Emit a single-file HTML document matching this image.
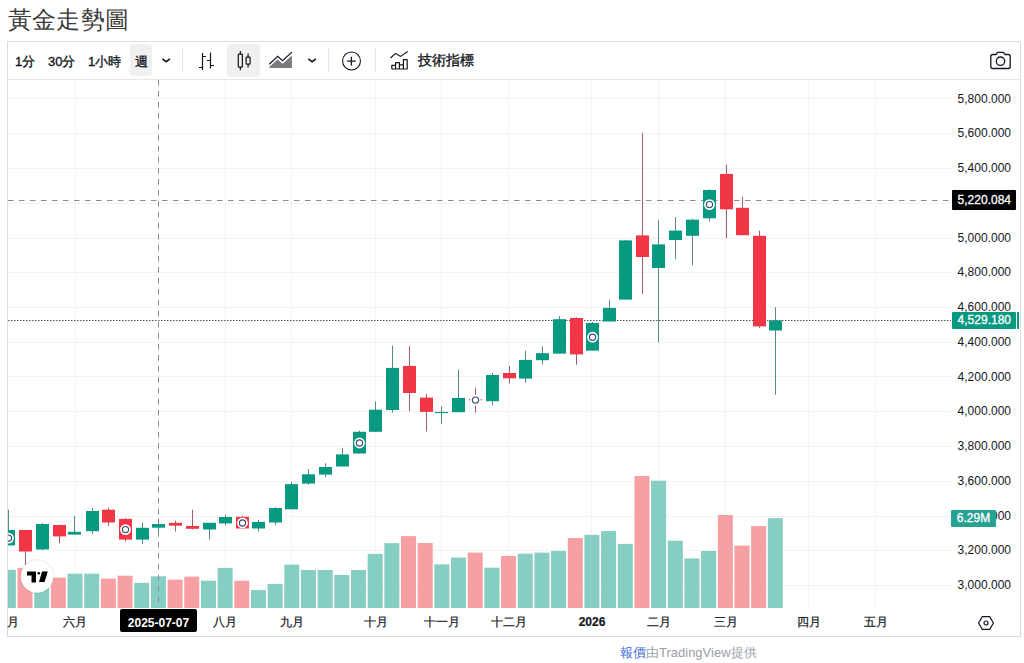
<!DOCTYPE html>
<html><head><meta charset="utf-8">
<style>
*{margin:0;padding:0;box-sizing:border-box}
html,body{width:1024px;height:663px;overflow:hidden;background:#fff}
body{position:relative;font-family:"Liberation Sans",sans-serif;color:#131722}
.title{position:absolute;left:8px;top:4px;font-family:"Liberation Serif",serif;font-size:24px;color:#3a3a3a;line-height:32px;letter-spacing:0.2px}
.widget{position:absolute;left:7px;top:41px;width:1014px;height:596px;border:1px solid #dcdcdc}
.tb{position:absolute;left:0;top:0;width:1012px;height:37px;border-bottom:1px solid #e0e3eb}
.t{position:absolute;top:10px;font-size:13px;line-height:16px;color:#131722;-webkit-text-stroke:0.35px #131722;white-space:nowrap}
.btnbg{position:absolute;background:#f0f0f0;border-radius:4px}
.sep{position:absolute;top:7px;width:1px;height:23px;background:#e6e6e6}
.pl{position:absolute;right:13px;font-size:12px;line-height:16px;color:#131722;text-align:right}
.tl{position:absolute;top:614px;font-size:12px;line-height:16px;color:#131722;-webkit-text-stroke:0.2px #131722;transform:translateX(-50%);white-space:nowrap}
svg{position:absolute;left:0;top:0}
.gr{stroke:#f3f3f3;stroke-width:1}
.foot{position:absolute;left:620px;top:645px;font-size:13px;line-height:16px;color:#9aa0a8;white-space:nowrap}
.plab{position:absolute;left:952px;width:64px;height:17px;font-size:12px;line-height:17px;color:#fff;-webkit-text-stroke:0.3px #fff;text-align:right;padding-right:5px;border-radius:1px}
.foot b{font-weight:normal;color:#4470d8}
</style></head><body>
<div class="title">黃金走勢圖</div>
<svg width="1024" height="663" viewBox="0 0 1024 663">
<defs><clipPath id="pane"><rect x="8" y="80" width="943" height="528"/></clipPath></defs>
<g clip-path="url(#pane)">
<line x1="8" y1="98.5" x2="952" y2="98.5" class="gr"/>
<line x1="8" y1="133.5" x2="952" y2="133.5" class="gr"/>
<line x1="8" y1="168.5" x2="952" y2="168.5" class="gr"/>
<line x1="8" y1="203.5" x2="952" y2="203.5" class="gr"/>
<line x1="8" y1="238.5" x2="952" y2="238.5" class="gr"/>
<line x1="8" y1="272.5" x2="952" y2="272.5" class="gr"/>
<line x1="8" y1="307.5" x2="952" y2="307.5" class="gr"/>
<line x1="8" y1="342.5" x2="952" y2="342.5" class="gr"/>
<line x1="8" y1="376.5" x2="952" y2="376.5" class="gr"/>
<line x1="8" y1="411.5" x2="952" y2="411.5" class="gr"/>
<line x1="8" y1="446.5" x2="952" y2="446.5" class="gr"/>
<line x1="8" y1="481.5" x2="952" y2="481.5" class="gr"/>
<line x1="8" y1="516.5" x2="952" y2="516.5" class="gr"/>
<line x1="8" y1="550.5" x2="952" y2="550.5" class="gr"/>
<line x1="8" y1="585.5" x2="952" y2="585.5" class="gr"/>
<line x1="75.5" y1="80" x2="75.5" y2="608" class="gr"/>
<line x1="158.5" y1="80" x2="158.5" y2="608" class="gr"/>
<line x1="225.5" y1="80" x2="225.5" y2="608" class="gr"/>
<line x1="291.5" y1="80" x2="291.5" y2="608" class="gr"/>
<line x1="375.5" y1="80" x2="375.5" y2="608" class="gr"/>
<line x1="441.5" y1="80" x2="441.5" y2="608" class="gr"/>
<line x1="508.5" y1="80" x2="508.5" y2="608" class="gr"/>
<line x1="591.5" y1="80" x2="591.5" y2="608" class="gr"/>
<line x1="658.5" y1="80" x2="658.5" y2="608" class="gr"/>
<line x1="725.5" y1="80" x2="725.5" y2="608" class="gr"/>
<line x1="808.5" y1="80" x2="808.5" y2="608" class="gr"/>
<line x1="875.5" y1="80" x2="875.5" y2="608" class="gr"/>
<rect x="0.84" y="569.8" width="15" height="38.2" fill="#86cdc2"/>
<rect x="17.51" y="567.9" width="15" height="40.1" fill="#f7a0a4"/>
<rect x="34.19" y="574.0" width="15" height="34.0" fill="#86cdc2"/>
<rect x="50.86" y="577.6" width="15" height="30.4" fill="#f7a0a4"/>
<rect x="67.54" y="573.7" width="15" height="34.3" fill="#86cdc2"/>
<rect x="84.21" y="573.7" width="15" height="34.3" fill="#86cdc2"/>
<rect x="100.88" y="578.6" width="15" height="29.4" fill="#f7a0a4"/>
<rect x="117.56" y="575.7" width="15" height="32.3" fill="#f7a0a4"/>
<rect x="134.23" y="582.9" width="15" height="25.1" fill="#86cdc2"/>
<rect x="150.91" y="576.3" width="15" height="31.7" fill="#86cdc2"/>
<rect x="167.58" y="579.6" width="15" height="28.4" fill="#f7a0a4"/>
<rect x="184.25" y="576.6" width="15" height="31.4" fill="#f7a0a4"/>
<rect x="200.93" y="580.7" width="15" height="27.3" fill="#86cdc2"/>
<rect x="217.60" y="567.9" width="15" height="40.1" fill="#86cdc2"/>
<rect x="234.28" y="580.7" width="15" height="27.3" fill="#f7a0a4"/>
<rect x="250.95" y="590.0" width="15" height="18.0" fill="#86cdc2"/>
<rect x="267.62" y="583.9" width="15" height="24.1" fill="#86cdc2"/>
<rect x="284.30" y="564.6" width="15" height="43.4" fill="#86cdc2"/>
<rect x="300.97" y="570.0" width="15" height="38.0" fill="#86cdc2"/>
<rect x="317.65" y="570.0" width="15" height="38.0" fill="#86cdc2"/>
<rect x="334.32" y="574.9" width="15" height="33.1" fill="#86cdc2"/>
<rect x="350.99" y="570.0" width="15" height="38.0" fill="#86cdc2"/>
<rect x="367.67" y="553.9" width="15" height="54.1" fill="#86cdc2"/>
<rect x="384.34" y="543.2" width="15" height="64.8" fill="#86cdc2"/>
<rect x="401.02" y="536.1" width="15" height="71.9" fill="#f7a0a4"/>
<rect x="417.69" y="543.0" width="15" height="65.0" fill="#f7a0a4"/>
<rect x="434.36" y="564.4" width="15" height="43.6" fill="#86cdc2"/>
<rect x="451.04" y="557.6" width="15" height="50.4" fill="#86cdc2"/>
<rect x="467.71" y="552.6" width="15" height="55.4" fill="#f7a0a4"/>
<rect x="484.39" y="567.7" width="15" height="40.3" fill="#86cdc2"/>
<rect x="501.06" y="555.9" width="15" height="52.1" fill="#f7a0a4"/>
<rect x="517.73" y="553.7" width="15" height="54.3" fill="#86cdc2"/>
<rect x="534.41" y="552.6" width="15" height="55.4" fill="#86cdc2"/>
<rect x="551.08" y="550.9" width="15" height="57.1" fill="#86cdc2"/>
<rect x="567.76" y="538.0" width="15" height="70.0" fill="#f7a0a4"/>
<rect x="584.43" y="534.8" width="15" height="73.2" fill="#86cdc2"/>
<rect x="601.10" y="531.1" width="15" height="76.9" fill="#86cdc2"/>
<rect x="617.78" y="543.9" width="15" height="64.1" fill="#86cdc2"/>
<rect x="634.45" y="476.0" width="15" height="132.0" fill="#f7a0a4"/>
<rect x="651.13" y="480.7" width="15" height="127.3" fill="#86cdc2"/>
<rect x="667.80" y="540.7" width="15" height="67.3" fill="#86cdc2"/>
<rect x="684.47" y="558.4" width="15" height="49.6" fill="#86cdc2"/>
<rect x="701.15" y="551.0" width="15" height="57.0" fill="#86cdc2"/>
<rect x="717.82" y="515.0" width="15" height="93.0" fill="#f7a0a4"/>
<rect x="734.50" y="545.6" width="15" height="62.4" fill="#f7a0a4"/>
<rect x="751.17" y="526.1" width="15" height="81.9" fill="#f7a0a4"/>
<rect x="767.84" y="518.2" width="15" height="89.8" fill="#86cdc2"/>
<line x1="158.5" y1="80" x2="158.5" y2="608" stroke="#8a8d96" stroke-dasharray="5.5 5.5"/>
<line x1="8" y1="200.5" x2="951" y2="200.5" stroke="#8a8d96" stroke-dasharray="5.5 5.5"/>
<line x1="8" y1="320.5" x2="951" y2="320.5" stroke="#555" stroke-dasharray="1.5 1.5"/>
<rect x="8" y="509.7" width="1" height="35.7" fill="#56897f"/>
<rect x="2" y="530.0" width="13" height="15.4" fill="#089981"/>
<rect x="25" y="530.0" width="1" height="35.0" fill="#a85c6c"/>
<rect x="19" y="530.0" width="13" height="21.5" fill="#f23645"/>
<rect x="42" y="523.0" width="1" height="27.2" fill="#56897f"/>
<rect x="36" y="524.0" width="13" height="25.5" fill="#089981"/>
<rect x="59" y="524.5" width="1" height="18.8" fill="#a85c6c"/>
<rect x="53" y="525.0" width="13" height="11.4" fill="#f23645"/>
<rect x="74" y="516.0" width="1" height="18.6" fill="#56897f"/>
<rect x="68" y="531.8" width="13" height="2.8" fill="#089981"/>
<rect x="92" y="508.0" width="1" height="26.2" fill="#56897f"/>
<rect x="86" y="511.0" width="13" height="20.2" fill="#089981"/>
<rect x="108" y="507.7" width="1" height="18.4" fill="#a85c6c"/>
<rect x="102" y="509.7" width="13" height="12.8" fill="#f23645"/>
<rect x="125" y="517.9" width="1" height="23.5" fill="#a85c6c"/>
<rect x="119" y="518.9" width="13" height="20.7" fill="#f23645"/>
<rect x="142" y="522.5" width="1" height="21.4" fill="#56897f"/>
<rect x="136" y="527.8" width="13" height="11.8" fill="#089981"/>
<rect x="158" y="519.0" width="1" height="13.0" fill="#56897f"/>
<rect x="152" y="524.0" width="13" height="3.7" fill="#089981"/>
<rect x="175" y="520.6" width="1" height="11.0" fill="#a85c6c"/>
<rect x="169" y="522.8" width="13" height="2.9" fill="#f23645"/>
<rect x="192" y="509.8" width="1" height="19.6" fill="#a85c6c"/>
<rect x="186" y="526.0" width="13" height="2.8" fill="#f23645"/>
<rect x="209" y="522.8" width="1" height="16.9" fill="#56897f"/>
<rect x="203" y="522.8" width="13" height="6.7" fill="#089981"/>
<rect x="225" y="514.6" width="1" height="11.1" fill="#56897f"/>
<rect x="219" y="517.0" width="13" height="6.4" fill="#089981"/>
<rect x="242" y="515.6" width="1" height="12.9" fill="#a85c6c"/>
<rect x="236" y="516.8" width="13" height="11.7" fill="#f23645"/>
<rect x="258" y="520.0" width="1" height="11.5" fill="#56897f"/>
<rect x="252" y="521.9" width="13" height="6.6" fill="#089981"/>
<rect x="275" y="507.2" width="1" height="17.7" fill="#56897f"/>
<rect x="269" y="508.0" width="13" height="14.5" fill="#089981"/>
<rect x="291" y="481.8" width="1" height="27.5" fill="#56897f"/>
<rect x="285" y="484.1" width="13" height="25.2" fill="#089981"/>
<rect x="308" y="469.0" width="1" height="15.6" fill="#56897f"/>
<rect x="302" y="474.3" width="13" height="9.3" fill="#089981"/>
<rect x="325" y="463.4" width="1" height="13.6" fill="#56897f"/>
<rect x="319" y="467.0" width="13" height="7.6" fill="#089981"/>
<rect x="342" y="447.9" width="1" height="18.6" fill="#56897f"/>
<rect x="336" y="454.4" width="13" height="12.1" fill="#089981"/>
<rect x="359" y="430.6" width="1" height="22.9" fill="#56897f"/>
<rect x="353" y="431.8" width="13" height="21.7" fill="#089981"/>
<rect x="375" y="401.4" width="1" height="30.4" fill="#56897f"/>
<rect x="369" y="409.7" width="13" height="22.1" fill="#089981"/>
<rect x="392" y="345.6" width="1" height="67.1" fill="#56897f"/>
<rect x="386" y="367.9" width="13" height="42.1" fill="#089981"/>
<rect x="409" y="345.9" width="1" height="65.3" fill="#a85c6c"/>
<rect x="403" y="365.9" width="13" height="27.1" fill="#f23645"/>
<rect x="426" y="393.8" width="1" height="37.7" fill="#a85c6c"/>
<rect x="420" y="397.6" width="13" height="14.3" fill="#f23645"/>
<rect x="441" y="406.2" width="1" height="17.8" fill="#56897f"/>
<rect x="435" y="411.9" width="13" height="1.2" fill="#089981"/>
<rect x="458" y="369.5" width="1" height="42.7" fill="#56897f"/>
<rect x="452" y="397.9" width="13" height="14.3" fill="#089981"/>
<rect x="475" y="387.8" width="1" height="24.8" fill="#a85c6c"/>
<rect x="469" y="399.1" width="13" height="1.3" fill="#f23645"/>
<rect x="492" y="373.0" width="1" height="32.4" fill="#56897f"/>
<rect x="486" y="375.0" width="13" height="26.2" fill="#089981"/>
<rect x="509" y="365.9" width="1" height="17.6" fill="#a85c6c"/>
<rect x="503" y="373.0" width="13" height="5.3" fill="#f23645"/>
<rect x="525" y="350.8" width="1" height="32.0" fill="#56897f"/>
<rect x="519" y="359.9" width="13" height="18.7" fill="#089981"/>
<rect x="542" y="346.4" width="1" height="18.1" fill="#56897f"/>
<rect x="536" y="353.2" width="13" height="7.0" fill="#089981"/>
<rect x="559" y="316.2" width="1" height="37.4" fill="#56897f"/>
<rect x="553" y="319.2" width="13" height="34.4" fill="#089981"/>
<rect x="576" y="317.4" width="1" height="47.4" fill="#a85c6c"/>
<rect x="570" y="318.0" width="13" height="36.4" fill="#f23645"/>
<rect x="592" y="322.0" width="1" height="28.6" fill="#56897f"/>
<rect x="586" y="323.0" width="13" height="27.6" fill="#089981"/>
<rect x="609" y="299.9" width="1" height="21.6" fill="#56897f"/>
<rect x="603" y="307.9" width="13" height="13.6" fill="#089981"/>
<rect x="625" y="239.9" width="1" height="59.7" fill="#56897f"/>
<rect x="619" y="240.4" width="13" height="59.2" fill="#089981"/>
<rect x="642" y="132.9" width="1" height="161.1" fill="#a85c6c"/>
<rect x="636" y="235.4" width="13" height="21.6" fill="#f23645"/>
<rect x="658" y="220.3" width="1" height="121.9" fill="#56897f"/>
<rect x="652" y="244.4" width="13" height="23.6" fill="#089981"/>
<rect x="675" y="217.0" width="1" height="42.2" fill="#56897f"/>
<rect x="669" y="230.6" width="13" height="9.4" fill="#089981"/>
<rect x="692" y="218.7" width="1" height="46.5" fill="#56897f"/>
<rect x="686" y="219.7" width="13" height="16.1" fill="#089981"/>
<rect x="709" y="189.4" width="1" height="32.0" fill="#56897f"/>
<rect x="703" y="190.0" width="13" height="28.3" fill="#089981"/>
<rect x="726" y="164.8" width="1" height="73.5" fill="#a85c6c"/>
<rect x="720" y="173.9" width="13" height="35.4" fill="#f23645"/>
<rect x="742" y="196.9" width="1" height="38.6" fill="#a85c6c"/>
<rect x="736" y="207.8" width="13" height="27.4" fill="#f23645"/>
<rect x="759" y="230.6" width="1" height="97.3" fill="#a85c6c"/>
<rect x="753" y="235.8" width="13" height="90.6" fill="#f23645"/>
<rect x="775" y="307.2" width="1" height="87.5" fill="#56897f"/>
<rect x="769" y="320.4" width="13" height="10.1" fill="#089981"/>
<circle cx="8.5" cy="538.1" r="5.4" fill="#fff"/><circle cx="8.5" cy="538.1" r="3.1" fill="none" stroke="#3d4870" stroke-width="1.15"/>
<circle cx="125.5" cy="529.6" r="5.4" fill="#fff"/><circle cx="125.5" cy="529.6" r="3.1" fill="none" stroke="#3d4870" stroke-width="1.15"/>
<circle cx="242.5" cy="523.0" r="5.4" fill="#fff"/><circle cx="242.5" cy="523.0" r="3.1" fill="none" stroke="#3d4870" stroke-width="1.15"/>
<circle cx="359.5" cy="443.0" r="5.4" fill="#fff"/><circle cx="359.5" cy="443.0" r="3.1" fill="none" stroke="#3d4870" stroke-width="1.15"/>
<circle cx="475.5" cy="400.1" r="5.4" fill="#fff"/><circle cx="475.5" cy="400.1" r="3.1" fill="none" stroke="#3d4870" stroke-width="1.15"/>
<circle cx="592.5" cy="337.2" r="5.4" fill="#fff"/><circle cx="592.5" cy="337.2" r="3.1" fill="none" stroke="#3d4870" stroke-width="1.15"/>
<circle cx="709.5" cy="204.6" r="5.4" fill="#fff"/><circle cx="709.5" cy="204.6" r="3.1" fill="none" stroke="#3d4870" stroke-width="1.15"/>
<circle cx="37" cy="576.5" r="17.5" fill="#000" opacity="0.06"/><circle cx="37" cy="576.5" r="16.3" fill="#fff"/>
<path d="M27 571.5h9v11h-4.5v-7h-4.5z" fill="#000"/>
<circle cx="38.8" cy="573.2" r="1.3" fill="#000"/>
<path d="M42 571.5h5.8l-3.2 10.5h-5.6z" fill="#000"/>
</g>
</svg>
<div class="widget"></div>
<div style="position:absolute;left:8px;top:79px;width:1012px;height:1px;background:#e6e6e6"></div>

<div class="btnbg" style="left:130px;top:44px;width:22px;height:32px"></div>
<div class="btnbg" style="left:227px;top:44px;width:33px;height:33px"></div>
<div class="t" style="left:15px;top:54px">1分</div>
<div class="t" style="left:48px;top:54px">30分</div>
<div class="t" style="left:88px;top:54px">1小時</div>
<div class="t" style="left:135px;top:54px">週</div>
<div class="t" style="left:418px;top:53px;font-size:13.6px">技術指標</div>
<div class="sep" style="left:182px;top:48px"></div>
<div class="sep" style="left:328px;top:48px"></div>
<div class="sep" style="left:375px;top:48px"></div>
<svg width="1024" height="100" viewBox="0 0 1024 100" style="position:absolute;left:0;top:0">
<g fill="none" stroke="#131722" stroke-width="1.1">
<path d="M162.3 58.8l3.8 2.9l3.8-2.9" stroke-width="1.5"/>
<path d="M308.3 58.8l3.8 2.9l3.8-2.9" stroke-width="1.5"/>
<path d="M202.5 53v17M199 67.5h3.5M202.5 56.5h3.5M210.5 52.5v16M207 60.5h3.5M210.5 65.5h3.5" stroke-width="1.2"/>
<rect x="238.3" y="54.2" width="4.1" height="12.9" rx="0.7" stroke-width="1.2"/>
<path d="M240.35 51v3.2M240.35 67.1v3.1" stroke-width="1.2"/>
<rect x="246.1" y="57.2" width="4" height="6.9" rx="0.7" stroke-width="1.2"/>
<path d="M248.1 53.6v3.6M248.1 64.1v3.5" stroke-width="1.2"/>
<circle cx="351.5" cy="61" r="8.95"/>
<path d="M351.4 56.7v8.8M347.1 61.1h8.6" stroke-width="1.3"/>
<path d="M390.5 58l5.1-4.6l4.9 3l7.2-4.9" stroke-width="1.2"/>
<path d="M391.8 69v-3.6h3.8V69M395.6 69v-6.4h3.8V69M399.4 69v-4.2h4V69M403.4 69v-9.3h3.8V69zM391.8 69h15.4" stroke-width="1.2" stroke-linejoin="round"/>
<path d="M990.8 56.5a2 2 0 0 1 2-2h3.2l1.5-2.2h6l1.5 2.2h3.2a2 2 0 0 1 2 2v10a2 2 0 0 1-2 2h-15.4a2 2 0 0 1-2-2z" stroke-width="1.3"/>
<circle cx="1000.5" cy="61.2" r="4.2" stroke-width="1.3"/>
</g>
<path d="M269.3 68V67.1L277.6 59.5L282.6 63.7L291.9 55.5V68Z" fill="#7a7a7a"/>
<path d="M269.3 64.2L277.7 56.4L282.6 60.6L291.9 52.1" fill="none" stroke="#131722" stroke-width="1.2"/>
</svg>

<div class="pl" style="top:90.5px">5,800.000</div>
<div class="pl" style="top:125.2px">5,600.000</div>
<div class="pl" style="top:160.0px">5,400.000</div>
<div class="pl" style="top:229.5px">5,000.000</div>
<div class="pl" style="top:264.2px">4,800.000</div>
<div class="pl" style="top:299.0px">4,600.000</div>
<div class="pl" style="top:333.8px">4,400.000</div>
<div class="pl" style="top:368.5px">4,200.000</div>
<div class="pl" style="top:403.2px">4,000.000</div>
<div class="pl" style="top:438.0px">3,800.000</div>
<div class="pl" style="top:472.8px">3,600.000</div>
<div class="pl" style="top:507.5px">3,400.000</div>
<div class="pl" style="top:542.2px">3,200.000</div>
<div class="pl" style="top:577.0px">3,000.000</div>


<div class="tl" style="left:13px;clip-path:inset(0 0 0 -100px)">月</div>
<div class="tl" style="left:74.5px">六月</div>
<div class="tl" style="left:225px">八月</div>
<div class="tl" style="left:291.5px">九月</div>
<div class="tl" style="left:375.5px">十月</div>
<div class="tl" style="left:442px">十一月</div>
<div class="tl" style="left:509px">十二月</div>
<div class="tl" style="left:592px;font-weight:bold">2026</div>
<div class="tl" style="left:659px">二月</div>
<div class="tl" style="left:726px">三月</div>
<div class="tl" style="left:809px">四月</div>
<div class="tl" style="left:876px">五月</div>
<div style="position:absolute;left:120px;top:609px;width:77px;height:23px;background:#000;border-radius:2px;color:#fff;font-size:12px;font-weight:bold;line-height:20px;padding-top:4px;text-align:center">2025-07-07</div>
<div class="plab" style="top:190px;height:20px;line-height:20px;background:#000">5,220.084</div>
<div class="plab" style="top:312px;background:#089981">4,529.180</div>
<div style="position:absolute;left:1017px;top:312px;width:2px;height:17px;background:#089981"></div>
<div class="plab" style="top:510px;left:951px;width:45px;background:#26a293;text-align:center;padding:0">6.29M</div>
<svg width="20" height="20" viewBox="0 0 20 20" style="position:absolute;left:975.5px;top:613px"><path d="M6.3 3.6h7.4l3.7 6.4l-3.7 6.4h-7.4l-3.7-6.4z" fill="none" stroke="#131722" stroke-width="1.2"/><circle cx="10" cy="10" r="2" fill="none" stroke="#131722" stroke-width="1.2"/></svg>
<div class="foot"><b>報價</b>由TradingView提供</div>

</body></html>
